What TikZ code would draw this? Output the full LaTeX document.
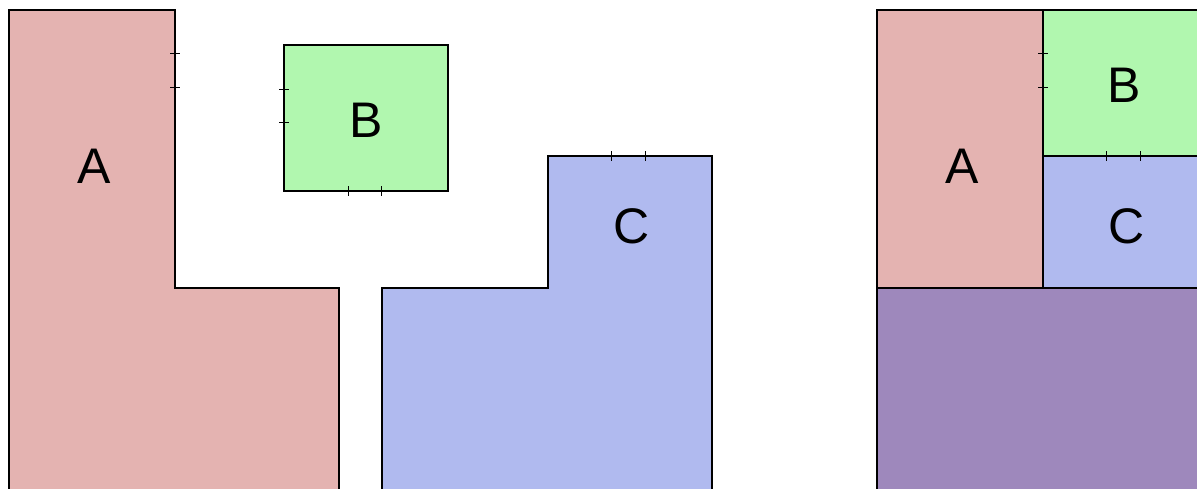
\documentclass[tikz,border=0pt]{standalone}
\usepackage{fontspec}
\setmainfont{Liberation Sans}
\definecolor{pieceA}{RGB}{228,179,177}
\definecolor{pieceB}{RGB}{177,247,175}
\definecolor{pieceC}{RGB}{176,186,239}
\definecolor{pieceAC}{RGB}{158,136,188}
\begin{document}
\begin{tikzpicture}[x=1pt,y=-1pt,
  piece/.style={draw=black,line width=1.1pt},
  lbl/.style={font=\fontsize{50}{50}\selectfont},
  tick/.style={draw=black,line width=0.9pt}]
\useasboundingbox (0,0) rectangle (1197,488);
\begin{scope}
\clip (0,0) rectangle (1197,488);
% separate pieces
\draw[piece,fill=pieceA] (9,10) -- (175,10) -- (175,288) -- (339,288) -- (339,500) -- (9,500) -- cycle;
\draw[piece,fill=pieceB] (284,45) rectangle (448,191);
\draw[piece,fill=pieceC] (382,500) -- (382,288) -- (548,288) -- (548,156) -- (712,156) -- (712,500) -- cycle;
% assembled pieces
\draw[piece,fill=pieceA] (877,10) rectangle (1043,288);
\draw[piece,fill=pieceB] (1043,10) rectangle (1210,156);
\draw[piece,fill=pieceC] (1043,156) rectangle (1210,288);
\draw[piece,fill=pieceAC] (877,288) rectangle (1210,500);
\end{scope}
% matching marks
\foreach \y in {53,87} {
  \draw[tick] (170,\y) -- (180,\y);
  \draw[tick] (1038,\y) -- (1048,\y);
}
\foreach \y in {89,122} \draw[tick] (279,\y) -- (289,\y);
\foreach \x in {348,381} \draw[tick] (\x,186) -- (\x,196);
\foreach \x in {611,645} \draw[tick] (\x,151) -- (\x,161);
\foreach \x in {1106,1140} \draw[tick] (\x,151) -- (\x,161);
% labels
\node[lbl] (la) at (94,166) {A};
\node[lbl] (lb) at (366,120) {B};
\node[lbl] (lc) at (632,226) {C};
\node[lbl] (ra) at (962,166) {A};
\node[lbl] (rb) at (1124,85) {B};
\node[lbl] (rc) at (1127,226) {C};
\end{tikzpicture}
\end{document}
